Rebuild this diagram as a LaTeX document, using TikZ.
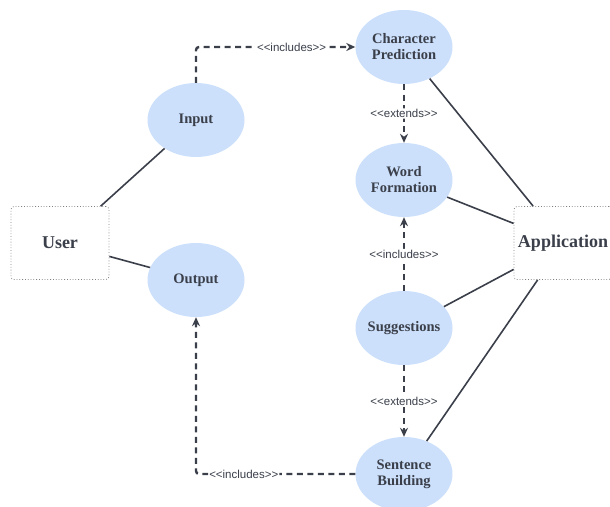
\documentclass[tikz,border=0pt]{standalone}
\usepackage{fontspec}
\setmainfont{Liberation Serif}
\newfontfamily\lblfont{Liberation Sans}[Ligatures=TeXOff]
\usetikzlibrary{shapes.geometric,arrows.meta}
\definecolor{ucfill}{HTML}{CCE0FB}
\definecolor{ink}{HTML}{3A3F4A}

\begin{document}
\begin{tikzpicture}[x=1pt, y=-1pt,
			usecase/.style = {ellipse, fill=ucfill, minimum width=97pt, minimum height=74pt,
				inner xsep=-12pt, inner ysep=0pt, align=center, text=ink,
				font=\fontsize{14.5}{16}\selectfont\bfseries},
			actor/.style = {rectangle, rounded corners=3pt, draw=gray, dotted, line width=0.8pt,
				minimum width=98pt, minimum height=73pt, text=ink, font=\fontsize{18}{20}\selectfont\bfseries},
			assoc/.style = {draw=ink, line width=1.6pt},
			dep/.style = {draw=ink, line width=2.4pt, dash pattern=on 6pt off 4.5pt,
				rounded corners=3pt, -{Stealth[length=9pt,width=8pt]}},
			lbl/.style = {fill=white, inner sep=1pt, text=ink, font=\lblfont\fontsize{11.5}{12}\selectfont}]
	
	\useasboundingbox (0,0) rectangle (610,506);
	
	% actors
	\node[actor] (user) at (60,243) {User};
	\node[actor] (app) at (563,243) {Application};
	
	% use cases
	\node[usecase] (input) at (196,120) {Input};
	\node[usecase] (output) at (196,280) {Output};
	\node[usecase] (charpred) at (404,47) {Character\\Prediction};
	\node[usecase] (wordform) at (404,180) {Word\\Formation};
	\node[usecase] (suggest) at (404,328) {Suggestions};
	\node[usecase] (sentence) at (404,474) {Sentence\\Building};
	
	% associations
	\draw[assoc] (user) -- (input);
	\draw[assoc] (user) -- (output);
	\draw[assoc] (charpred) -- (app);
	\draw[assoc] (wordform) -- (app);
	\draw[assoc] (suggest) -- (app);
	\draw[assoc] (sentence) -- (app);
	
	% include / extend
	\draw[dep] (input.north) |- (charpred.west) node[lbl, pos=0.8] {<<includes>>};
	\draw[dep] (charpred) -- (wordform) node[lbl, midway] {<<extends>>};
	\draw[dep] (suggest) -- (wordform) node[lbl, midway] {<<includes>>};
	\draw[dep] (suggest) -- (sentence) node[lbl, midway] {<<extends>>};
	\draw[dep] (sentence.west) -| (output.south) node[lbl, pos=0.35] {<<includes>>};
\end{tikzpicture}
\end{document}
